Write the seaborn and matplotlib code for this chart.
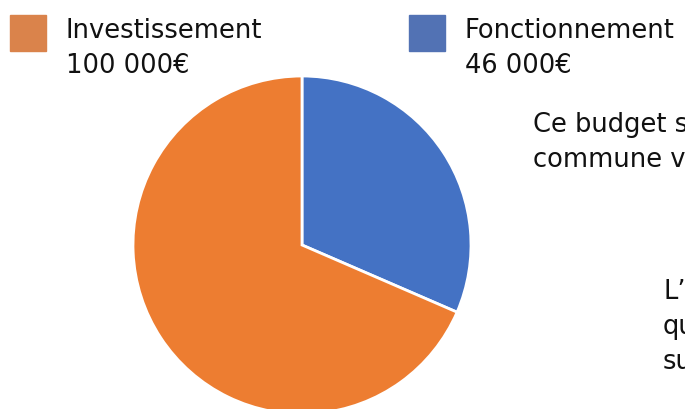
import matplotlib
matplotlib.use("Agg")
import matplotlib.pyplot as plt
import seaborn as sns
from matplotlib.patches import Rectangle

# data
labels = ["Fonctionnement", "Investissement"]
amounts = [46000, 100000]
amount_labels = ["46 000€", "100 000€"]
pie_colors = ["#4472C4", "#ED7D31"]
legend_colors = ["#5272B4", "#DA834B"]
side_lines = [("Ce budget s", 533, 125), ("commune ve", 533, 160),
              ("L’", 663, 292), ("qu", 663, 327), ("su", 663, 362)]

sns.set_theme(style="white")
plt.rcParams["font.family"] = ["DejaVu Sans"]

W, H = 685, 410
fig = plt.figure(figsize=(W / 100, H / 100), dpi=100)
fig.patch.set_facecolor("white")

# pie centred at (302, 246) px, radius 169 px
cx, cy, r = 302, 246, 169
ax = fig.add_axes([(cx - r) / W, (H - cy - r) / H, 2 * r / W, 2 * r / H])
ax.pie(amounts, colors=pie_colors, startangle=90, counterclock=False,
       radius=1, wedgeprops=dict(edgecolor="white", linewidth=2))
ax.set_xlim(-1, 1)
ax.set_ylim(-1, 1)
ax.set_aspect("equal")
ax.axis("off")

# legend: squares + two-line labels
legend_pos = {"Investissement": 10, "Fonctionnement": 409}
for name, amt_txt, col in zip(labels, amount_labels, legend_colors):
    x0 = legend_pos[name]
    fig.patches.append(Rectangle((x0 / W, 1 - 52 / H), 36 / W, 36 / H,
                                 transform=fig.transFigure, color=col))
    fig.text((x0 + 56) / W, 1 - 31 / H, name, fontsize=18.5,
             va="center", ha="left", color="#111111")
    fig.text((x0 + 56) / W, 1 - 66 / H, amt_txt, fontsize=18.5,
             va="center", ha="left", color="#111111")

for txt, x, y in side_lines:
    fig.text(x / W, 1 - y / H, txt, fontsize=18.5, va="center", ha="left",
             color="#111111")

fig.savefig("out.png", dpi=100, facecolor="white")
